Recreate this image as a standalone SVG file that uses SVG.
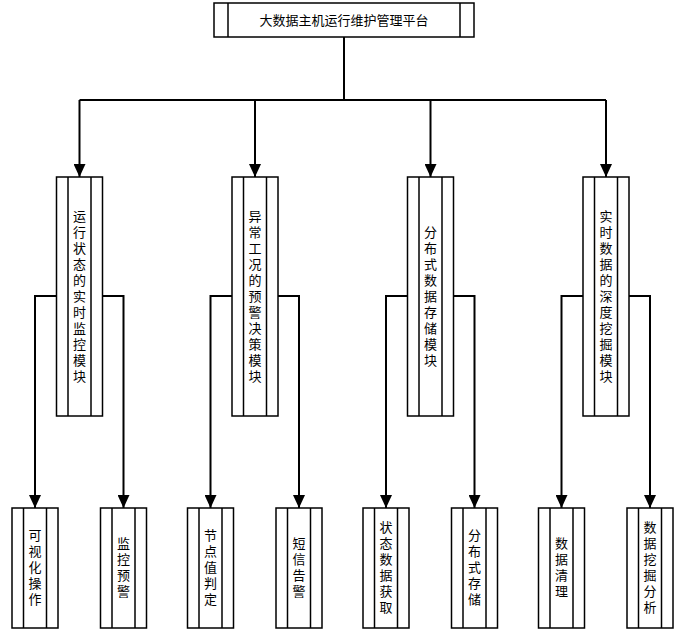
<svg xmlns="http://www.w3.org/2000/svg" width="684" height="631" viewBox="0 0 684 631">
<style>
.box{fill:#fff;stroke:#000;stroke-width:1.5}
.in{stroke:#000;stroke-width:1.5}
.c{fill:none;stroke:#000;stroke-width:2}
text{font-family:"Noto Sans CJK SC","Liberation Sans",sans-serif;font-size:13px;fill:#000;text-anchor:middle}
.v{writing-mode:vertical-rl;text-orientation:upright;letter-spacing:3px}
</style>
<defs>
<marker id="ah" markerWidth="13" markerHeight="12" refX="13" refY="6" orient="auto" markerUnits="userSpaceOnUse" viewBox="0 0 13 12">
<path d="M0,0 L13,6 L0,12 Z" fill="#000"/>
</marker>
</defs>
<rect width="684" height="631" fill="#fff"/>
<g id="connectors">
<path class="c" d="M344,37 V100"/>
<path class="c" d="M79.5,100 H606"/>
<path class="c" d="M79.5,100 V177" marker-end="url(#ah)"/>
<path class="c" d="M255,100 V177" marker-end="url(#ah)"/>
<path class="c" d="M430.5,100 V177" marker-end="url(#ah)"/>
<path class="c" d="M606,100 V177" marker-end="url(#ah)"/>
<path class="c" d="M56.5,296 H35 V508" marker-end="url(#ah)"/>
<path class="c" d="M102.5,296 H123.5 V508" marker-end="url(#ah)"/>
<path class="c" d="M232,296 H210.5 V508" marker-end="url(#ah)"/>
<path class="c" d="M278,296 H299 V508" marker-end="url(#ah)"/>
<path class="c" d="M407.5,296 H386 V508" marker-end="url(#ah)"/>
<path class="c" d="M453.5,296 H474.5 V508" marker-end="url(#ah)"/>
<path class="c" d="M583,296 H561.5 V508" marker-end="url(#ah)"/>
<path class="c" d="M629,296 H650 V508" marker-end="url(#ah)"/>
</g>
<g id="root">
<rect class="box" x="214" y="3" width="260" height="34"/>
<line class="in" x1="228" y1="3" x2="228" y2="37"/>
<line class="in" x1="460" y1="3" x2="460" y2="37"/>
<text x="344" y="25">大数据主机运行维护管理平台</text>
</g>
<g id="m1">
<rect class="box" x="56.5" y="177" width="46" height="239"/>
<line class="in" x1="68" y1="177" x2="68" y2="416"/>
<line class="in" x1="91" y1="177" x2="91" y2="416"/>
<text class="v" x="79.5" y="297.5">运行状态的实时监控模块</text>
</g>
<g id="m2">
<rect class="box" x="232" y="177" width="46" height="239"/>
<line class="in" x1="243.5" y1="177" x2="243.5" y2="416"/>
<line class="in" x1="266.5" y1="177" x2="266.5" y2="416"/>
<text class="v" x="255" y="297.5">异常工况的预警决策模块</text>
</g>
<g id="m3">
<rect class="box" x="407.5" y="177" width="46" height="239"/>
<line class="in" x1="419" y1="177" x2="419" y2="416"/>
<line class="in" x1="442" y1="177" x2="442" y2="416"/>
<text class="v" x="430.5" y="297.5">分布式数据存储模块</text>
</g>
<g id="m4">
<rect class="box" x="583" y="177" width="46" height="239"/>
<line class="in" x1="594.5" y1="177" x2="594.5" y2="416"/>
<line class="in" x1="617.5" y1="177" x2="617.5" y2="416"/>
<text class="v" x="606" y="297.5">实时数据的深度挖掘模块</text>
</g>
<g id="l1">
<rect class="box" x="12" y="508" width="46" height="120"/>
<line class="in" x1="23.5" y1="508" x2="23.5" y2="628"/>
<line class="in" x1="46.5" y1="508" x2="46.5" y2="628"/>
<text class="v" x="35" y="569">可视化操作</text>
</g>
<g id="l2">
<rect class="box" x="100.5" y="508" width="46" height="120"/>
<line class="in" x1="112" y1="508" x2="112" y2="628"/>
<line class="in" x1="135" y1="508" x2="135" y2="628"/>
<text class="v" x="123.5" y="569">监控预警</text>
</g>
<g id="l3">
<rect class="box" x="187.5" y="508" width="46" height="120"/>
<line class="in" x1="199" y1="508" x2="199" y2="628"/>
<line class="in" x1="222" y1="508" x2="222" y2="628"/>
<text class="v" x="210.5" y="569">节点值判定</text>
</g>
<g id="l4">
<rect class="box" x="276" y="508" width="46" height="120"/>
<line class="in" x1="287.5" y1="508" x2="287.5" y2="628"/>
<line class="in" x1="310.5" y1="508" x2="310.5" y2="628"/>
<text class="v" x="299" y="569">短信告警</text>
</g>
<g id="l5">
<rect class="box" x="363" y="508" width="46" height="120"/>
<line class="in" x1="374.5" y1="508" x2="374.5" y2="628"/>
<line class="in" x1="397.5" y1="508" x2="397.5" y2="628"/>
<text class="v" x="386" y="569">状态数据获取</text>
</g>
<g id="l6">
<rect class="box" x="451.5" y="508" width="46" height="120"/>
<line class="in" x1="463" y1="508" x2="463" y2="628"/>
<line class="in" x1="486" y1="508" x2="486" y2="628"/>
<text class="v" x="474.5" y="569">分布式存储</text>
</g>
<g id="l7">
<rect class="box" x="538.5" y="508" width="46" height="120"/>
<line class="in" x1="550" y1="508" x2="550" y2="628"/>
<line class="in" x1="573" y1="508" x2="573" y2="628"/>
<text class="v" x="561.5" y="569">数据清理</text>
</g>
<g id="l8">
<rect class="box" x="627" y="508" width="46" height="120"/>
<line class="in" x1="638.5" y1="508" x2="638.5" y2="628"/>
<line class="in" x1="661.5" y1="508" x2="661.5" y2="628"/>
<text class="v" x="650" y="569">数据挖掘分析</text>
</g>
</svg>
